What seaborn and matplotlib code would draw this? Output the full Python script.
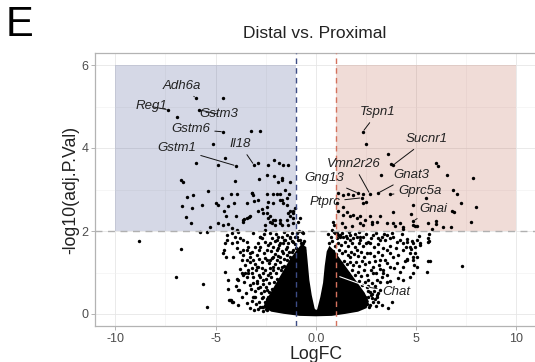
import matplotlib
matplotlib.use("Agg")
import matplotlib.pyplot as plt
import seaborn as sns
import numpy as np
import pandas as pd

# ---------------- data ----------------
# scattered genes: (logFC, -log10 adj.P)
sig_down = [(-6.94,4.75),(-4.61,5.20),(-3.25,4.40),(-2.78,4.40),(-5.11,4.10),(-5.98,3.65),(-4.89,3.58),(-4.53,3.77),
    (-2.88,3.65),(-2.37,3.58),(-2.10,3.72),(-1.83,3.65),(-1.65,3.58),(-1.37,3.58),(-6.72,3.23),(-6.61,3.19),(-4.03,3.20),
    (-2.85,3.26),(-2.10,3.32),(-1.90,3.19),(-1.70,3.22),(-1.28,3.17),(-6.45,2.83),(-6.11,2.87),(-5.36,2.97),(-6.69,2.60),
    (-6.19,2.55),(-5.66,2.63),(-6.48,2.33),(-6.24,2.19),(-4.98,2.68),(-4.86,2.63),(-4.69,2.79),(-4.23,2.89),(-3.91,2.89),
    (-4.08,2.67),(-4.36,2.60),(-3.44,2.68),(-3.16,2.92),(-3.08,2.73),(-4.58,2.47),(-4.48,2.36),(-3.98,2.35),(-3.58,2.28),
    (-3.31,2.33),(-2.45,2.89),(-2.37,2.71),(-2.42,2.59),(-2.12,2.89),(-1.95,2.89),(-1.78,2.89),(-1.53,2.99),(-1.32,2.89),
    (-1.70,2.74),(-1.45,2.63),(-2.87,2.49),(-2.62,2.43),(-2.28,2.36),(-2.03,2.27),(-1.78,2.20),(-1.37,2.43),(-1.15,2.47),
    (-1.03,2.55),(-5.78,1.98),(-5.44,1.98),(-5.28,2.10),(-4.86,2.20),(-4.61,2.14),(-4.36,2.17),(-4.19,2.07),(-3.94,2.02),
    (-3.61,2.22),(-2.53,2.02),(-2.45,3.35),(-1.70,3.27),(-3.20,2.92),(-3.11,2.87),(-2.87,2.75),(-2.70,2.52),(-2.45,2.43),
    (-1.78,2.75),(-1.62,2.67),(-2.12,2.67),(-1.45,2.79),(-1.28,2.47),(-1.12,2.43),(-1.28,2.35),(-1.12,2.31),(-1.45,2.27),
    (-1.78,2.27),(-2.12,2.27),(-2.28,2.22),(-2.53,2.14),(-3.61,2.27),(-3.44,2.31),(-3.28,2.35),(-0.78,2.31),(-0.87,2.22),
    (-1.12,2.19),(-1.37,2.14),(-1.70,2.14),(-2.03,2.14),(-2.20,2.19),(-2.37,2.31)]
ns_left = [(-8.81,1.76),(-6.72,1.57),(-6.96,0.90),(-5.61,0.72),(-5.44,0.18),(-4.53,1.02),(-4.36,0.82),(-4.24,0.34),
    (-4.11,0.30),(-4.39,0.60),(-3.86,0.58),(-3.94,0.84),(-3.61,0.94),(-4.44,1.90),(-4.53,1.70),(-4.58,1.54),(-4.64,1.48),
    (-4.50,1.38),(-4.19,1.94),(-4.03,1.86),(-3.86,1.98),(-4.44,1.78),(-4.19,1.70),(-3.94,1.74),(-3.78,1.82),(-3.44,1.74),
    (-3.36,1.62),(-3.61,1.54),(-3.78,1.50),(-3.94,1.58),(-4.11,1.38),(-3.61,1.42),(-3.44,1.30),(-3.53,1.18),(-3.36,1.06),
    (-3.20,0.98),(-3.11,1.30),(-2.95,1.42),(-2.87,1.14),(-2.78,1.62),(-2.70,1.82),(-2.53,1.74),(-2.45,1.54),(-2.28,1.70),
    (-2.20,1.82),(-2.12,1.62),(-1.95,1.78),(-1.78,1.70),(-1.70,1.86),(-1.53,1.78),(-1.45,1.62),(-1.28,1.82),(-1.12,1.74),
    (-0.95,1.86),(-0.78,1.78),(-0.70,1.66),(-0.62,1.70),(-2.45,1.30),(-2.12,1.38),(-2.62,0.82),(-2.78,0.66),(-2.95,0.74),
    (-3.11,0.42),(-2.62,0.42),(-2.45,0.58),(-2.28,0.98),(-2.12,1.14),(-1.95,1.30),(-1.78,1.38),(-1.62,1.46),(-1.70,1.14),
    (-1.45,1.30),(-1.20,1.50),(-0.95,1.42),(-3.03,1.62),(-3.20,1.50),(-3.28,1.38),(-3.44,0.90),(-3.69,0.98),(-3.86,0.82),
    (-3.81,0.58),(-4.28,0.34),(-2.67,0.18),(-2.28,0.26),(-2.12,0.34),(-2.37,0.42),(-4.31,0.34),(-4.18,0.29),(-3.08,0.41),
    (-2.64,0.16),(-2.78,1.86),(-1.87,1.86),(-1.45,1.90),(-1.03,1.85),(-3.61,1.78),(-3.44,1.54),(-3.53,0.98),(-3.11,0.74),
    (-3.03,0.42),(-2.78,0.18),(-2.45,0.10),(-2.95,1.14),(-2.62,0.98),(-2.28,1.30),(-1.95,1.54),(-1.62,1.70),(-1.28,1.86),
    (-0.95,1.94),(-0.70,1.98),(-3.15,1.94),(-2.78,1.86)]
halo_left = [(-0.62,1.95),(-0.85,1.99),(-1.20,1.96),(-1.60,1.97),(-2.00,1.93),(-2.30,1.96),(-2.60,1.92),
    (-0.58,1.76),(-0.75,1.72),(-0.90,1.78),(-1.05,1.68),(-1.20,1.76),(-1.38,1.70),(-1.60,1.78),(-1.85,1.66),(-2.05,1.75),
    (-2.40,1.67),(-2.90,1.72),(-0.60,1.55),(-0.80,1.58),(-1.00,1.60),(-1.15,1.55),(-1.32,1.50),(-1.50,1.56),(-1.70,1.52),
    (-1.88,1.58),(-2.05,1.45),(-2.25,1.52),(-2.60,1.48),(-2.85,1.55),(-3.30,1.46),(-1.30,1.38),(-1.45,1.42),(-1.60,1.32),
    (-1.80,1.25),(-1.90,1.40),(-2.05,1.20),(-2.20,1.35),(-2.35,1.22),(-2.55,1.35),(-2.70,1.25),(-2.85,1.32),(-3.05,1.20),
    (-3.30,1.25),(-3.70,1.30),(-1.60,1.15),(-1.75,1.05),(-1.90,1.12),(-2.00,0.98),(-2.15,1.05),(-2.30,1.12),(-2.40,0.95),
    (-2.55,1.06),(-2.70,1.10),(-2.85,0.95),(-3.00,1.05),(-3.20,1.12),(-3.40,1.00),(-3.80,1.08),(-1.95,0.85),(-2.10,0.78),
    (-2.25,0.88),(-2.35,0.75),(-2.50,0.85),(-2.65,0.72),(-2.80,0.88),(-2.95,0.80),(-3.15,0.88),(-3.30,0.70),(-3.60,0.78),
    (-4.00,0.68),(-2.20,0.60),(-2.35,0.52),(-2.50,0.64),(-2.60,0.55),(-2.75,0.50),(-2.90,0.62),(-3.05,0.55),(-3.25,0.60),
    (-3.50,0.50),(-3.70,0.42),(-2.45,0.35),(-2.55,0.28),(-2.70,0.38),(-2.85,0.30),(-3.00,0.25),(-3.20,0.32),(-3.45,0.26),
    (-3.90,0.22),(-2.50,0.12),(-2.65,0.08),(-2.90,0.12),(-3.10,0.10),(-3.30,0.15)]
sig_up = [(2.51,4.10),(3.59,3.86),(3.76,3.61),(6.01,3.63),(6.09,3.57),(3.26,3.35),(6.54,3.35),(7.84,3.27),(6.87,3.00),
    (7.07,2.90),(7.25,2.68),(8.00,2.57),(6.82,2.48),(6.92,2.46),(7.75,2.21),(5.52,2.79),(4.87,2.63),(4.76,2.40),(4.84,2.14),
    (4.96,2.12),(5.04,2.12),(5.59,2.20),(6.01,2.24),(6.01,2.17),(5.79,2.06),(6.37,2.09),(6.75,2.09),(4.37,2.10),(4.34,2.05),
    (1.13,2.92),(1.38,2.87),(1.63,2.89),(1.88,2.87),(2.38,2.89),(2.51,2.71),(2.38,2.67),(1.05,2.67),(1.13,2.47),(1.38,2.57),
    (1.55,2.45),(1.38,2.39),(1.71,2.35),(1.88,2.39),(2.05,2.31),(2.21,2.35),(2.46,2.27),(2.21,2.20),(2.71,2.35),(2.80,2.22),
    (3.05,2.22),(2.80,2.17),(3.21,2.35),(3.54,2.19),(3.87,2.45),(3.87,2.19),(3.96,2.12),(4.21,2.19),(1.30,2.19),(1.46,2.10),
    (1.80,2.12),(2.38,2.14),(0.85,2.22),(0.91,2.14)]
ns_right = [(4.29,1.93),(4.54,1.80),(4.79,1.77),(4.37,1.70),(4.51,1.62),(4.34,1.54),(4.74,1.56),(4.96,1.62),(5.17,1.88),
    (5.21,1.66),(5.67,1.93),(5.67,1.77),(4.96,1.46),(4.87,1.37),(4.54,1.32),(4.46,1.28),(4.91,1.18),(5.62,1.28),(5.71,1.28),
    (7.29,1.16),(0.96,1.94),(1.05,1.82),(1.21,1.90),(1.38,1.86),(1.55,1.82),(1.71,1.90),(1.88,1.82),(2.05,1.86),(2.21,1.78),
    (2.38,1.86),(2.63,1.74),(2.88,1.90),(3.13,1.82),(3.29,1.86),(3.46,1.78),(3.54,1.90),(3.71,1.82),(3.79,1.94),(3.87,1.86),
    (4.04,1.74),(4.21,1.78),(4.54,1.74),(4.71,1.62),(4.87,1.70),(5.04,1.78),(5.21,1.70),(5.62,1.82),(5.62,1.74),(4.71,1.46),
    (4.87,1.30),(5.04,1.14),(5.04,1.38),(4.54,1.30),(4.37,1.14),(4.21,1.02),(4.04,1.22),(3.87,1.38),(3.71,1.14),(3.54,1.22),
    (3.37,1.06),(3.29,0.90),(3.05,0.82),(2.88,0.98),(2.63,0.82),(2.55,0.66),(2.71,0.54),(2.80,0.38),(3.05,0.46),(3.21,0.58),
    (3.79,0.30),(4.71,0.90),(4.87,0.98),(5.54,1.02),(3.71,0.80),(4.13,0.86),(4.37,0.82),(2.61,0.42),(2.81,0.49),(3.11,0.51),
    (2.98,0.37),(0.80,2.02),(1.05,1.96),(1.21,1.86),(1.71,1.78),(2.21,1.86),(2.71,1.70),(3.21,1.78),(3.54,1.54),
    (3.21,1.30),(2.88,1.14),(2.55,1.46),(2.05,1.54),(1.71,1.38),(3.38,0.98),(3.54,0.78),(3.05,0.42),(3.13,0.30),(2.71,0.22)]
halo_right = [(0.62,1.92),(0.75,1.85),(0.90,1.98),(1.10,1.90),(1.30,1.95),(1.50,1.88),(1.65,1.97),(1.95,1.92),(2.15,1.97),
    (2.50,1.93),(2.75,1.84),(3.00,1.95),(3.40,1.92),(0.65,1.70),(0.80,1.76),(0.95,1.65),(1.10,1.72),(1.28,1.66),(1.45,1.74),
    (1.60,1.64),(1.80,1.70),(1.95,1.62),(2.15,1.70),(2.35,1.64),(2.50,1.72),(2.90,1.62),(3.10,1.68),(3.35,1.60),(3.70,1.65),
    (4.00,1.60),(0.85,1.52),(1.00,1.45),(1.15,1.55),(1.30,1.47),(1.45,1.53),(1.60,1.42),(1.75,1.50),(1.90,1.45),(2.10,1.40),
    (2.25,1.50),(2.40,1.38),(2.70,1.48),(2.90,1.40),(3.10,1.50),(3.30,1.42),(3.70,1.48),(4.10,1.42),(1.25,1.22),(1.40,1.28),
    (1.55,1.20),(1.70,1.26),(1.85,1.18),(2.00,1.25),(2.15,1.15),(2.30,1.28),(2.45,1.20),(2.65,1.25),(2.95,1.28),(3.15,1.18),
    (3.45,1.30),(3.90,1.10),(1.60,1.00),(1.80,1.05),(1.95,0.95),(2.10,1.02),(2.25,0.92),(2.40,1.05),(2.55,0.95),(2.75,1.05),
    (3.00,1.00),(3.20,1.08),(3.55,0.95),(2.00,0.75),(2.15,0.80),(2.30,0.70),(2.45,0.78),(2.60,0.68),(2.80,0.75),(2.95,0.68),
    (3.20,0.78),(2.30,0.50),(2.45,0.42),(2.60,0.55),(2.75,0.45),(2.90,0.55),
    (2.55,0.25),(2.65,0.18),(2.85,0.28),(3.00,0.20),(3.30,0.22),(3.60,0.15)]

# outline of the fully over-plotted core of the volcano (logFC, -log10 adj.P)
core_logfc = [0.0, 0.8, 1.5, 2.1, 2.5, 2.6, 2.4, 2.1, 1.8, 1.5, 1.2, 0.9, 0.7, 0.6, 0.5, 0.42, 0.28, 0.12, 0.02,
              -0.1, -0.25, -0.37, -0.46, -0.52, -0.7, -0.95, -1.25, -1.55, -1.85, -2.15, -2.45, -2.55, -2.2, -1.6, -0.8]
core_neglogp = [-0.03, -0.02, 0.03, 0.08, 0.16, 0.3, 0.5, 0.7, 0.9, 1.1, 1.3, 1.5, 1.6, 1.5, 1.15, 0.75, 0.4, 0.1, 0.06,
                0.12, 0.45, 0.82, 1.3, 1.6, 1.65, 1.5, 1.3, 1.05, 0.8, 0.55, 0.3, 0.18, 0.08, 0.03, -0.02]

# labelled genes
gene_names  = ["Adh6a", "Reg1", "Gstm3", "Gstm6", "Gstm1", "Il18", "Tspn1", "Sucnr1", "Vmn2r26",
               "Gnat3", "Gng13", "Ptprc", "Gprc5a", "Gnai", "Chat"]
gene_logfc  = [-5.98, -7.36, -5.81, -4.61, -3.98, -3.08, 2.35, 3.87, 2.71, 3.10, 2.13, 2.30, 3.71, 4.87, 1.20]
gene_neglogp = [5.20, 4.92, 4.92, 4.39, 3.57, 3.59, 4.39, 3.59, 2.89, 2.91, 2.91, 2.80, 2.88, 2.24, 0.90]
label_x = [-6.67, -8.22, -4.83, -6.24, -6.94, -3.79, 3.09, 5.56, 1.88, 4.79, 0.41, 0.45, 5.22, 5.87, 4.0]
label_y = [5.49, 5.00, 4.81, 4.45, 3.99, 4.09, 4.86, 4.21, 3.61, 3.35, 3.27, 2.70, 2.97, 2.54, 0.54]

# thresholds and highlight boxes
fc_cut = [-1, 1]
p_cut = 2
box_down = (-10, -1, 2, 6)
box_up = (1, 10, 2, 6)

x_ticks = [-10, -5, 0, 5, 10]
x_ticklabels = ["-10", "-5", "0.0", "5", "10"]
y_ticks = [0, 2, 4, 6]

# ---------------- figure ----------------
sns.set_theme(style="white")
plt.rcParams["font.family"] = ["Liberation Sans", "DejaVu Sans"]

pts = sig_down + ns_left + halo_left + sig_up + ns_right + halo_right
df = pd.DataFrame(pts, columns=["LogFC", "negp"])
genes = pd.DataFrame({"LogFC": gene_logfc, "negp": gene_neglogp, "name": gene_names})

fig = plt.figure(figsize=(5.35, 3.62), dpi=100)
ax = fig.add_axes([95.4 / 535, (362 - 326.45) / 362, 440.6 / 535, 273.9 / 362])
ax.set_xlim(-11, 11)
ax.set_ylim(-0.3, 6.3)

# grid
ax.set_xticks(x_ticks)
ax.set_xticklabels(x_ticklabels)
ax.set_yticks(y_ticks)
ax.set_xticks([-7.5, -2.5, 2.5, 7.5], minor=True)
ax.set_yticks([1, 3, 5], minor=True)
ax.grid(True, which="major", color="#e6e6e6", lw=0.6, zorder=0)
ax.grid(True, which="minor", color="#f0f0f0", lw=0.4, zorder=0)
ax.set_axisbelow(True)

# highlight boxes
for (x0, x1, y0, y1), c in [(box_down, "#2e3f82"), (box_up, "#b5503a")]:
    ax.fill_between([x0, x1], [y0, y0], [y1, y1], color=c, alpha=0.2, lw=0, zorder=1)

# dense core (thousands of over-plotted genes)
ax.fill(core_logfc, core_neglogp, color="black", lw=1.5, ec="black", zorder=3)

sns.scatterplot(data=df, x="LogFC", y="negp", color="black", s=6, linewidth=0, ax=ax, zorder=4)
sns.scatterplot(data=genes, x="LogFC", y="negp", color="black", s=6, linewidth=0, ax=ax, zorder=4)

# threshold lines
ax.axvline(fc_cut[0], color="#3d4c84", ls=(0, (4, 3)), lw=1.0, zorder=5)
ax.axvline(fc_cut[1], color="#d4725e", ls=(0, (4, 3)), lw=1.0, zorder=5)
ax.axhline(p_cut, color="#b0b0b0", ls=(0, (5, 4)), lw=1.0, zorder=5)

# labels
for name, gx, gy, tx, ty in zip(gene_names, gene_logfc, gene_neglogp, label_x, label_y):
    if name == "Chat":
        ax.plot([gx, 2.7], [gy, 0.64], color="white", lw=0.8, zorder=6)
        ax.annotate(name, xy=(2.7, 0.64), xytext=(tx, ty), ha="center", va="center",
                    fontsize=9.5, style="italic", color="#222222", zorder=7,
                    arrowprops=dict(arrowstyle="-", color="#222222", lw=0.7, shrinkA=1, shrinkB=0))
        continue
    ax.annotate(name, xy=(gx, gy), xytext=(tx, ty), ha="center", va="center",
                fontsize=9.5, style="italic", color="#222222", zorder=7,
                arrowprops=dict(arrowstyle="-", color="#111111", lw=0.7, shrinkA=1, shrinkB=1.5))

# axes styling
for s in ax.spines.values():
    s.set_color("#b3b3b3")
    s.set_linewidth(0.9)
ax.tick_params(axis="both", which="major", length=3, width=0.7, color="#b3b3b3",
               labelsize=9, labelcolor="#4d4d4d", pad=2, bottom=True, left=True)
ax.tick_params(axis="both", which="minor", length=0)

ax.set_xlabel("LogFC", fontsize=12.7, color="#222222")
ax.set_ylabel("-log10(adj.P.Val)", fontsize=12.7, color="#222222")
ax.xaxis.set_label_coords(0.5, -0.119)
ax.xaxis.label.set_va("baseline")
ax.yaxis.set_label_coords(-0.055, 0.5)
ax.yaxis.label.set_va("center")

fig.text(315 / 535, 1 - 33 / 362, "Distal vs. Proximal", ha="center", va="center",
         fontsize=12.5, color="#222222")
fig.text(6 / 535, 1 - 5 / 362, "E", ha="left", va="top", fontsize=30, color="black")

fig.savefig("out.png", dpi=100)
